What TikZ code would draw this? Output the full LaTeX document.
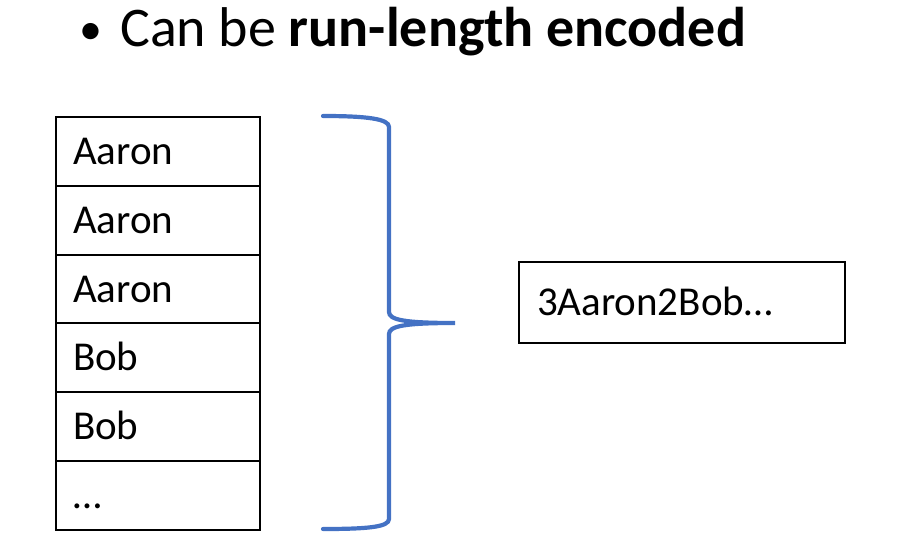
\documentclass[tikz,border=0pt]{standalone}
\usepackage{fontspec}
\setmainfont{Carlito}
\usepackage{tikz}
\usetikzlibrary{positioning, calc}
\definecolor{braceblue}{HTML}{4472C4}

\tikzset{
  cell/.style={draw, line width=2pt, rectangle, anchor=north west,
    minimum width=204pt, minimum height=68.83pt, text width=170pt,
    inner xsep=17pt, align=left, text height=26pt, text depth=0pt,
    font=\fontsize{41}{49}\selectfont},
  rlebox/.style={draw, line width=2pt, rectangle,
    minimum width=326pt, minimum height=81pt, text width=290pt,
    inner xsep=18pt, align=left, text height=26pt, text depth=0pt,
    font=\fontsize{41}{49}\selectfont}
}

\begin{document}
\begin{tikzpicture}[x=1pt, y=-1pt]
  \useasboundingbox (0,0) rectangle (908,554);
  % heading
  \node[anchor=base west, inner sep=0pt, font=\fontsize{46}{54}\selectfont] (dot) at (79,44) {•};
  \node[anchor=base west, inner sep=0pt, font=\fontsize{56}{66}\selectfont] (title) at (120,46)
    {Can be \textbf{run-length encoded}};
  % column of values
  \foreach \name [count=\i from 0] in {Aaron,Aaron,Aaron,Bob,Bob,\dots}{
    \node[cell] (row\i) at (55,{116+\i*68.83}) {\name};
  }
  % brace
  \draw[braceblue, line width=4.2pt, line cap=round]
    (323,116) .. controls (368,116) and (389,119) .. (389,127)
    -- (389,312) .. controls (389,320) and (405,323) .. (455,323)
    .. controls (405,323) and (389,326) .. (389,334)
    -- (389,519) .. controls (389,527) and (368,529) .. (323,529);
  % encoded result
  \node[rlebox] (rle) at (682,302.5) {3Aaron2Bob…};
\end{tikzpicture}
\end{document}
